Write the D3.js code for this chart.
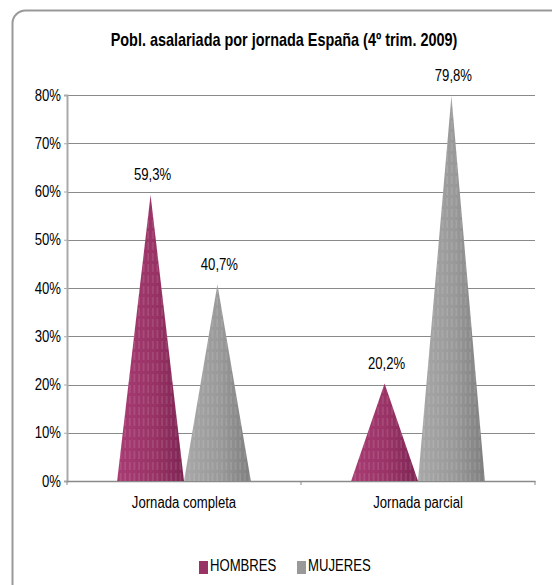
<!DOCTYPE html>
<html>
<head>
<meta charset="utf-8">
<script src="https://cdn.jsdelivr.net/npm/d3@7"></script>
<style>
  body { margin: 0; background: #fff; }
  svg { display: block; font-family: "Liberation Sans Narrow", "Arial Narrow", "Liberation Sans", Arial, sans-serif; }
</style>
</head>
<body>
<div id="chart"></div>
<script>
// data
const categories = ["Jornada completa", "Jornada parcial"];
const series = ["HOMBRES", "MUJERES"];
const hombres = [0.593, 0.202];
const mujeres = [0.407, 0.798];
const yTicks = [0, 0.1, 0.2, 0.3, 0.4, 0.5, 0.6, 0.7, 0.8];
const title = "Pobl. asalariada por jornada España (4º trim. 2009)";

const W = 552, H = 585;
const plot = { left: 67, right: 535, top: 95, bottom: 481 };

const locale = d3.formatLocale({ decimal: ",", thousands: ".", grouping: [3], currency: ["", "€"] });
const fmtLabel = locale.format(".1%");
const fmtTick = locale.format(".0%");

const colors = {
  HOMBRES: { base: "#993366", light: "#a83c73", dark: "#7d2453" },
  MUJERES: { base: "#999999", light: "#a8a8a8", dark: "#7e7e7e" },
};

// police étroite simulée (pas d'Arial Narrow ici)
function narrow(sel, k) {
  sel.each(function () {
    const len = this.getComputedTextLength();
    d3.select(this).attr("textLength", len * k).attr("lengthAdjust", "spacingAndGlyphs");
  });
}

const svg = d3.select("#chart").append("svg").attr("width", W).attr("height", H);

// défs : dégradés + rayures
const defs = svg.append("defs");
series.forEach((s) => {
  const g = defs.append("linearGradient").attr("id", `grad-${s}`).attr("x1", "0").attr("x2", "1").attr("y1", "0").attr("y2", "0");
  g.append("stop").attr("offset", "0%").attr("stop-color", colors[s].light);
  g.append("stop").attr("offset", "55%").attr("stop-color", colors[s].base);
  g.append("stop").attr("offset", "100%").attr("stop-color", colors[s].dark);
});
const pat = defs.append("pattern").attr("id", "stripes").attr("patternUnits", "userSpaceOnUse").attr("width", 4.6).attr("height", 11);
pat.append("line").attr("x1", 1).attr("x2", 1).attr("y1", 0).attr("y2", 8)
  .attr("stroke", "#fff").attr("stroke-opacity", 0.3).attr("stroke-width", 0.7);

// cadre
svg.append("rect")
  .attr("x", 12.5).attr("y", 10.5).attr("width", 560).attr("height", 590).attr("rx", 13)
  .attr("fill", "#fff").attr("stroke", "#999").attr("stroke-width", 2);

// titre
svg.append("text")
  .attr("transform", "translate(284,46) scale(0.78,1)")
  .attr("text-anchor", "middle")
  .style("font-size", "18.5px").style("font-weight", "bold").style("fill", "#000")
  .text(title);

// échelles
const x0 = d3.scaleBand().domain(categories).range([plot.left, plot.right]).paddingInner(1.5 / 3.5).paddingOuter(0.75 / 3.5);
const x1 = d3.scaleBand().domain(series).range([0, x0.bandwidth()]);
const y = d3.scaleLinear().domain([0, 0.8]).range([plot.bottom, plot.top]);

// grille
svg.append("g").selectAll("line").data(yTicks.slice(1)).enter().append("line")
  .attr("x1", plot.left).attr("x2", plot.right)
  .attr("y1", (d) => Math.round(y(d)) + 0.5).attr("y2", (d) => Math.round(y(d)) + 0.5)
  .attr("stroke", "#8a8a8a").attr("stroke-width", 1);

// axe Y
const yAxis = svg.append("g")
  .attr("transform", `translate(${plot.left},0)`)
  .call(d3.axisLeft(y).tickValues(yTicks).tickFormat(fmtTick).tickSize(3).tickPadding(3));
yAxis.select(".domain").attr("stroke", "#aaa").attr("stroke-width", 2);
yAxis.selectAll(".tick line").attr("stroke", "#aaa");
yAxis.selectAll(".tick text").style("font-size", "16px").style("font-family", "inherit").attr("fill", "#000")
  .call(narrow, 0.82);

// axe X
const xAxis = svg.append("g")
  .attr("transform", `translate(0,${plot.bottom})`)
  .call(d3.axisBottom(x0).tickSize(0).tickPadding(16));
xAxis.select(".domain").attr("stroke", "#8a8a8a").attr("stroke-width", 1.5);
xAxis.selectAll(".tick text").style("font-size", "16px").style("font-family", "inherit").attr("fill", "#000")
  .call(narrow, 0.82);
const bounds = [plot.left, x0(categories[1]) - x0.step() * x0.paddingInner() / 2, plot.right];
xAxis.selectAll(".bound").data(bounds).enter().append("line")
  .attr("x1", (d) => d).attr("x2", (d) => d).attr("y1", 0).attr("y2", 4)
  .attr("stroke", "#8a8a8a");

// cônes
const rows = [];
categories.forEach((c, i) => {
  rows.push({ cat: c, s: "HOMBRES", v: hombres[i] });
  rows.push({ cat: c, s: "MUJERES", v: mujeres[i] });
});

const cone = (d) => {
  const a = x0(d.cat) + x1(d.s);
  const b = a + x1.bandwidth();
  return `M${a},${y(0)} L${(a + b) / 2},${y(d.v)} L${b},${y(0)} Z`;
};

const cones = svg.append("g");
cones.selectAll(".cone").data(rows).enter().append("path")
  .attr("d", cone).attr("fill", (d) => `url(#grad-${d.s})`);
cones.selectAll(".stripe").data(rows).enter().append("path")
  .attr("d", cone).attr("fill", "url(#stripes)");

// étiquettes
svg.append("g").selectAll("text").data(rows).enter().append("text")
  .attr("x", (d) => x0(d.cat) + x1(d.s) + x1.bandwidth() / 2 + 2)
  .attr("y", (d) => y(d.v) - 15)
  .attr("text-anchor", "middle")
  .style("font-size", "16px").style("fill", "#000")
  .text((d) => fmtLabel(d.v))
  .call(narrow, 0.82);

// légende
const legendX = [199, 297];
const legend = svg.append("g");
series.forEach((s, i) => {
  legend.append("rect").attr("x", legendX[i]).attr("y", 561).attr("width", 9).attr("height", 13).attr("fill", colors[s].base);
  legend.append("text").attr("x", legendX[i] + 11).attr("y", 571).style("font-size", "16px").style("fill", "#000").text(s)
    .call(narrow, 0.82);
});
</script>
</body>
</html>
